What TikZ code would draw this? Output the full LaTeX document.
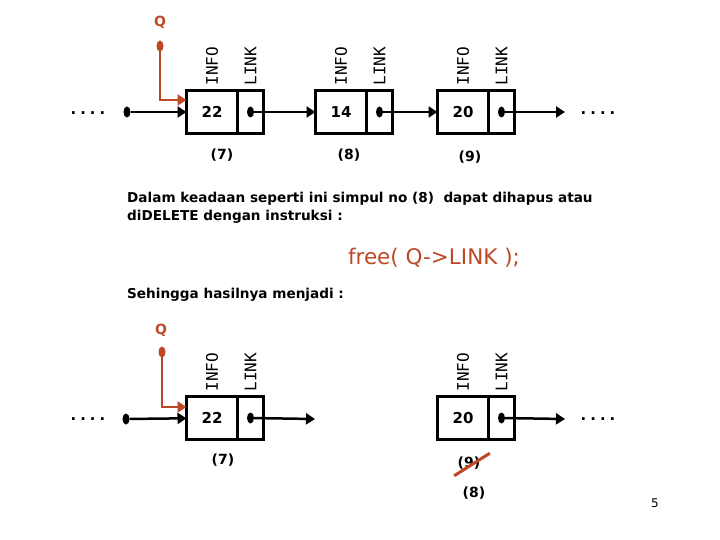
\documentclass[tikz,border=0pt]{standalone}
\usepackage{fontspec}
\setmainfont{DejaVu Sans}
\newfontfamily\monofont{DejaVu Sans Mono}
\usetikzlibrary{shapes.geometric, arrows.meta, positioning, calc}
\definecolor{qred}{RGB}{190,72,38}
\tikzset{
  infobox/.style={draw, line width=3.4pt, outer sep=0pt, inner sep=0pt,
    minimum width=51pt, minimum height=43pt,
    font=\fontsize{15}{16}\selectfont\bfseries},
  linkbox/.style={draw, line width=3.4pt, outer sep=0pt, inner sep=0pt,
    minimum width=26pt, minimum height=43pt},
  ptdot/.style={ellipse, fill, minimum width=7pt, minimum height=11pt, inner sep=0pt},
  vlabel/.style={rotate=90, anchor=west, inner sep=0pt,
    font=\monofont\fontsize{16}{16}\selectfont},
  nolbl/.style={font=\fontsize{14}{16}\selectfont\bfseries},
  more/.style={font=\monofont\fontsize{16}{16}\selectfont\bfseries},
  arr/.style={line width=2.5pt, -{Triangle[length=9pt,width=11pt]}},
  qarr/.style={arr, color=qred},
  qlbl/.style={text=qred, font=\fontsize{14}{16}\selectfont\bfseries}
}
\begin{document}
\begin{tikzpicture}[x=1pt, y=-1pt]
  \useasboundingbox (0,0) rectangle (720,540);

  % keadaan awal
  \node[infobox] (a22) at (212,112) {22};
  \node[linkbox, right=0pt of a22] (l22) {};
  \node[infobox] (a14) at (341,112) {14};
  \node[linkbox, right=0pt of a14] (l14) {};
  \node[infobox] (a20) at (463,112) {20};
  \node[linkbox, right=0pt of a20] (l20) {};

  \foreach \n in {22,14,20} {
    \node[vlabel] at ([yshift=5pt]a\n.north) {INFO};
    \node[vlabel] at ([yshift=5pt]l\n.north) {LINK};
    \node[ptdot] (d\n) at (l\n) {};
  }

  \node[more] (e0) at (88,113) {....};
  \node[ptdot] (s0) at (127,112) {};
  \coordinate (t0) at (565,112);
  \node[more] (e1) at (598,113) {....};

  \draw[arr] (s0) -- (a22);
  \draw[arr] (d22) -- (a14);
  \draw[arr] (d14) -- (a20);
  \draw[arr] (d20) -- (t0);

  \node[qlbl] (q1) at (160,22) {Q};
  \node[ptdot, qred] (qd1) at (160,46) {};
  \draw[qarr] (qd1.center) |- ([yshift=12pt]a22.west);

  \node[nolbl] (n7) at (222,155) {(7)};
  \node[nolbl] (n8) at (349,155) {(8)};
  \node[nolbl] (n9) at (470,157) {(9)};

  % keterangan
  \node[anchor=north west, align=left, inner sep=0pt,
        font=\fontsize{13.6}{18}\selectfont\bfseries] (txt1) at (127,192)
    {Dalam keadaan seperti ini simpul no (8)\ \ dapat dihapus atau\\
     diDELETE dengan instruksi :};
  \node[text=qred, font=\fontsize{21.5}{24}\selectfont] (cmd) at (434,258)
    {free( Q->LINK );};
  \node[anchor=north west, inner sep=0pt,
        font=\fontsize{13.6}{18}\selectfont\bfseries] (txt2) at (127,288)
    {Sehingga hasilnya menjadi :};

  % hasil setelah dihapus
  \node[infobox] (b22) at (212,418) {22};
  \node[linkbox, right=0pt of b22] (m22) {};
  \node[infobox] (b20) at (463,418) {20};
  \node[linkbox, right=0pt of b20] (m20) {};

  \foreach \n in {22,20} {
    \node[vlabel] at ([yshift=5pt]b\n.north) {INFO};
    \node[vlabel] at ([yshift=5pt]m\n.north) {LINK};
    \node[ptdot] (f\n) at (m\n) {};
  }

  \node[more] (e2) at (88,419) {....};
  \node[ptdot] (s2) at (126,419) {};
  \coordinate (t2) at (315,419);
  \coordinate (t3) at (565,419);
  \node[more] (e3) at (598,419) {....};

  \draw[arr] (s2) -- (b22);
  \draw[arr] (f22) -- (t2);
  \draw[arr] (f20) -- (t3);

  \node[qlbl] (q2) at (161,330) {Q};
  \node[ptdot, qred] (qd2) at (162,352) {};
  \draw[qarr] (qd2.center) |- ([yshift=11pt]b22.west);

  \node[nolbl] (m7) at (223,460) {(7)};
  \node[nolbl] (m9) at (469,463) {(9)};
  \node[nolbl] (m8) at (474,493) {(8)};
  \draw[qred, line width=3pt] ($(m9.south west)+(0,3)$) -- ($(m9.north east)+(6,0)$);

  \node[font=\fontsize{12}{14}\selectfont] (pg) at (655,503) {5};
\end{tikzpicture}
\end{document}
